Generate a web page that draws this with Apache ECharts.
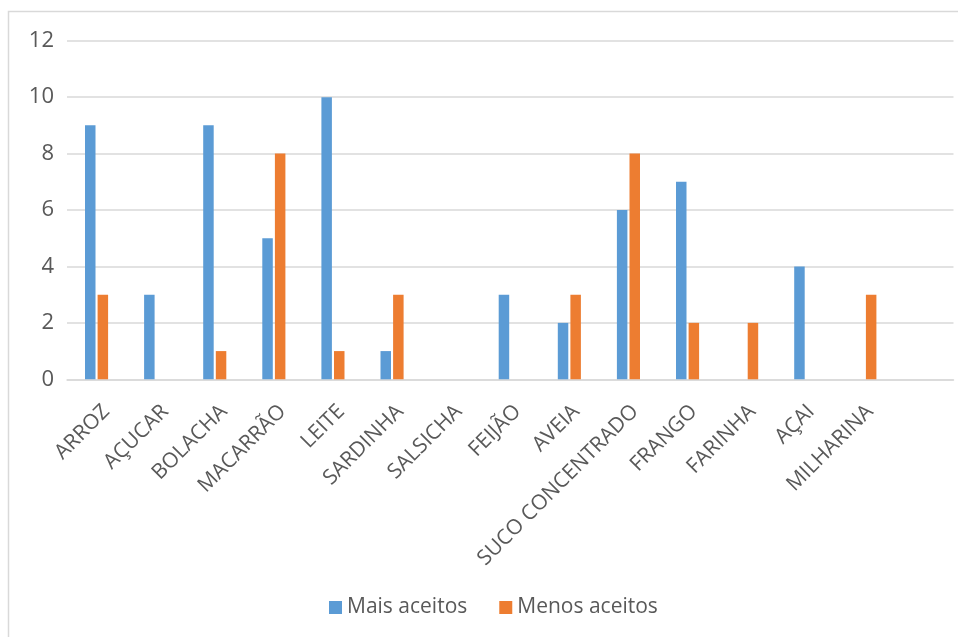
<!DOCTYPE html>
<html>
<head>
<meta charset="utf-8">
<script src="https://cdn.jsdelivr.net/npm/echarts@6/dist/echarts.min.js"></script>
<style>html,body{margin:0;padding:0;background:#fff;}#c{width:958px;height:637px;}</style>
</head>
<body>
<div id="c"></div>
<script>
var categories = ['ARROZ','AÇUCAR','BOLACHA','MACARRÃO','LEITE','SARDINHA','SALSICHA','FEIJÃO','AVEIA','SUCO CONCENTRADO','FRANGO','FARINHA','AÇAI','MILHARINA'];
var maisAceitos = [9,3,9,5,10,1,0,3,2,6,7,0,4,0];
var menosAceitos = [3,0,1,8,1,3,0,0,3,8,2,2,0,3];
var yTicks = [0,2,4,6,8,10,12];

var chart = echarts.init(document.getElementById('c'));
var FONT = '"Open Sans", "Noto Sans", sans-serif';
var gridW = 886.5;
chart.setOption({
  animation: false,
  textStyle: {fontFamily: FONT},
  graphic: [{
    type: 'rect', silent: true, z: -10,
    shape: {x: 8.5, y: 11.5, width: 1000, height: 700},
    style: {fill: 'none', stroke: '#d9d9d9', lineWidth: 1.5}
  }],
  legend: {
    data: ['Mais aceitos','Menos aceitos'],
    left: 329, top: 597, padding: 0,
    itemWidth: 13, itemHeight: 13, itemGap: 32,
    icon: 'rect',
    textStyle: {color: '#595959', fontSize: 21, fontFamily: FONT}
  },
  grid: [
    {left: 67, top: 40.7, width: gridW, bottom: 257.7, containLabel: false},
    {left: 77, top: 40.7, width: gridW, bottom: 257.7, containLabel: false}
  ],
  xAxis: [{
    type: 'category', gridIndex: 0, data: categories, max: 14,
    axisLine: {show: true, lineStyle: {color: '#d9d9d9', width: 1.5}},
    axisTick: {show: false},
    axisLabel: {show: false}
  },{
    type: 'category', gridIndex: 1, data: categories, max: 14,
    axisLine: {show: false}, axisTick: {show: false}, splitLine: {show: false},
    axisLabel: {
      show: true, interval: 0, rotate: 45, margin: 29,
      color: '#595959', fontSize: 21, fontFamily: FONT,
      formatter: function (v) { return v == null ? '' : v; }
    }
  }],
  yAxis: [{
    type: 'value', gridIndex: 0, min: 0, max: 12, interval: 2,
    axisLine: {show: false}, axisTick: {show: false},
    axisLabel: {color: '#595959', fontSize: 22, margin: 13, fontFamily: FONT,
      formatter: function (v) { return yTicks.indexOf(v) >= 0 ? String(v) : ''; }},
    splitLine: {lineStyle: {color: '#d9d9d9', width: 1.5}}
  },{
    type: 'value', gridIndex: 1, min: 0, max: 12, show: false
  }],
  series: [{
    name: 'Mais aceitos', type: 'bar', xAxisIndex: 0, yAxisIndex: 0,
    data: maisAceitos, barWidth: 10.5, barGap: '20%',
    itemStyle: {color: '#5b9bd5'}
  },{
    name: 'Menos aceitos', type: 'bar', xAxisIndex: 0, yAxisIndex: 0,
    data: menosAceitos, barWidth: 10.5, barGap: '20%',
    itemStyle: {color: '#ed7d31'}
  }]
});
</script>
</body>
</html>
